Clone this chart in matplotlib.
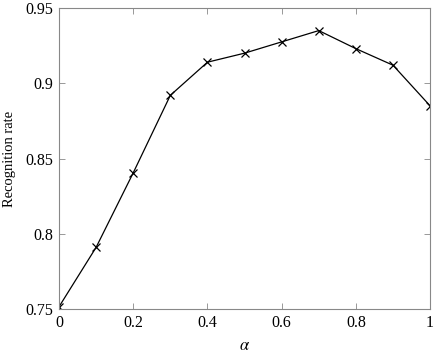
import matplotlib
matplotlib.use("Agg")
import matplotlib.pyplot as plt

alpha = [0.0, 0.1, 0.2, 0.3, 0.4, 0.5, 0.6, 0.7, 0.8, 0.9, 1.0]
rate = [0.7515, 0.791, 0.8405, 0.892, 0.914, 0.920, 0.9275, 0.935, 0.923, 0.912, 0.885]
xticks = [0, 0.2, 0.4, 0.6, 0.8, 1]
xticklabels = ['0', '0.2', '0.4', '0.6', '0.8', '1']
yticks = [0.75, 0.8, 0.85, 0.9, 0.95]
yticklabels = ['0.75', '0.8', '0.85', '0.9', '0.95']

plt.rcParams['font.family'] = 'serif'
plt.rcParams['font.serif'] = ['Liberation Serif', 'DejaVu Serif']
plt.rcParams['mathtext.fontset'] = 'stix'

fig = plt.figure(figsize=(4.34, 3.53), dpi=100)
ax = fig.add_axes([0.136, 0.1246, 0.855, 0.8527])

ax.plot(alpha, rate, color='black', linewidth=0.9, marker='x',
        markersize=6, markeredgewidth=0.9)

ax.set_xlim(0, 1)
ax.set_ylim(0.75, 0.95)
ax.set_xticks(xticks)
ax.set_xticklabels(xticklabels)
ax.set_yticks(yticks)
ax.set_yticklabels(yticklabels)
ax.tick_params(direction='in', top=True, right=True, length=4, width=0.6,
               color='#888888', labelsize=11.5, pad=4)

for s in ax.spines.values():
    s.set_color('#888888')
    s.set_linewidth(0.8)

ax.set_xlabel(r'$\alpha$', fontsize=12, labelpad=5)
ax.set_ylabel('Recognition rate', fontsize=10.5, labelpad=7)

fig.savefig('out.png', dpi=100)
